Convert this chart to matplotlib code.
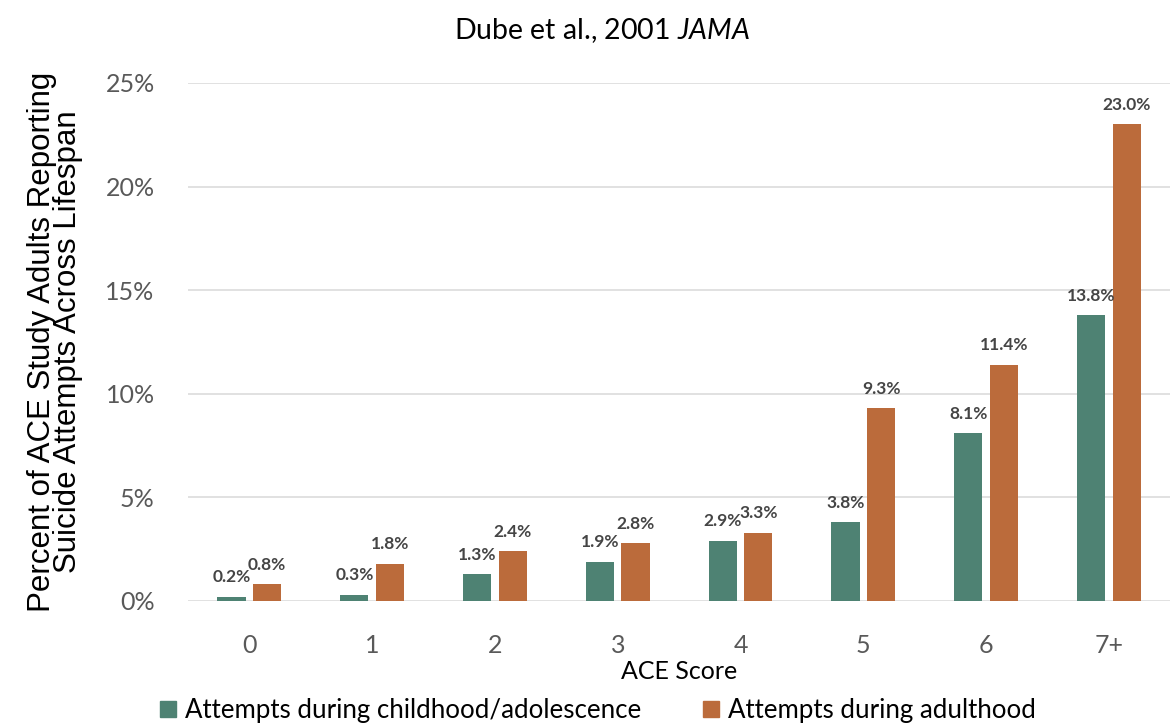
import numpy as np
import matplotlib.pyplot as plt
from matplotlib.patches import Patch

# data
scores = ["0", "1", "2", "3", "4", "5", "6", "7+"]
childhood = [0.2, 0.3, 1.3, 1.9, 2.9, 3.8, 8.1, 13.8]
adulthood = [0.8, 1.8, 2.4, 2.8, 3.3, 9.3, 11.4, 23.0]
yticks = [0, 5, 10, 15, 20, 25]

teal = "#4e8273"
orange = "#bb6b3b"
font = "Lato"

plt.rcParams["mathtext.fontset"] = "custom"
plt.rcParams["mathtext.rm"] = "Lato"
plt.rcParams["mathtext.it"] = "Lato:italic"

fig = plt.figure(figsize=(11.75, 7.28), dpi=100)
ax = fig.add_axes([0.160, 0.1745, 0.836, 0.7115])

x = np.arange(len(scores))
w = 0.23
b1 = ax.bar(x - 0.145, childhood, w, color=teal, zorder=3)
b2 = ax.bar(x + 0.145, adulthood, w, color=orange, zorder=3)

for bars, vals in ((b1, childhood), (b2, adulthood)):
   for r, v in zip(bars, vals):
      ax.text(r.get_x() + r.get_width() / 2, v + 0.55, "{:.1f}%".format(v),
              ha="center", va="bottom", fontsize=12.5, color="#454545",
              family=font, fontweight="bold")

ax.set_xlim(-0.5, len(scores) - 0.5)
ax.set_ylim(0, 25)
ax.set_yticks(yticks)
ax.set_yticklabels(["{}%".format(t) for t in yticks], family=font, fontsize=18, color="#595959")
ax.set_xticks(x)
ax.set_xticklabels(scores, family=font, fontsize=18, color="#595959")
ax.tick_params(axis="x", length=0, pad=24)
ax.tick_params(axis="y", length=0, pad=24)
ax.grid(axis="y", color="#dcdcdc", linewidth=1.2, zorder=0)
for s in ax.spines.values():
   s.set_visible(False)

ax.set_xlabel("ACE Score", family=font, fontsize=18, color="black", labelpad=2)
ax.set_ylabel("Percent of ACE Study Adults Reporting\nSuicide Attempts Across Lifespan",
              family="Liberation Sans", fontsize=22.5, color="black", labelpad=16, linespacing=0.82)

fig.text(0.512, 0.958, r"Dube et al., 2001 $\mathit{JAMA}$", ha="center", va="center",
         family=font, fontsize=20.5)

handles = [Patch(color=teal), Patch(color=orange)]
fig.legend(handles, ["Attempts during childhood/adolescence", "Attempts during adulthood"],
           loc="center", bbox_to_anchor=(0.509, 0.024), ncol=2, frameon=False,
           prop={"family": font, "size": 18.6}, handlelength=0.6, handleheight=0.6,
           handletextpad=0.35, columnspacing=2.4)

fig.savefig("out.png", dpi=100)
